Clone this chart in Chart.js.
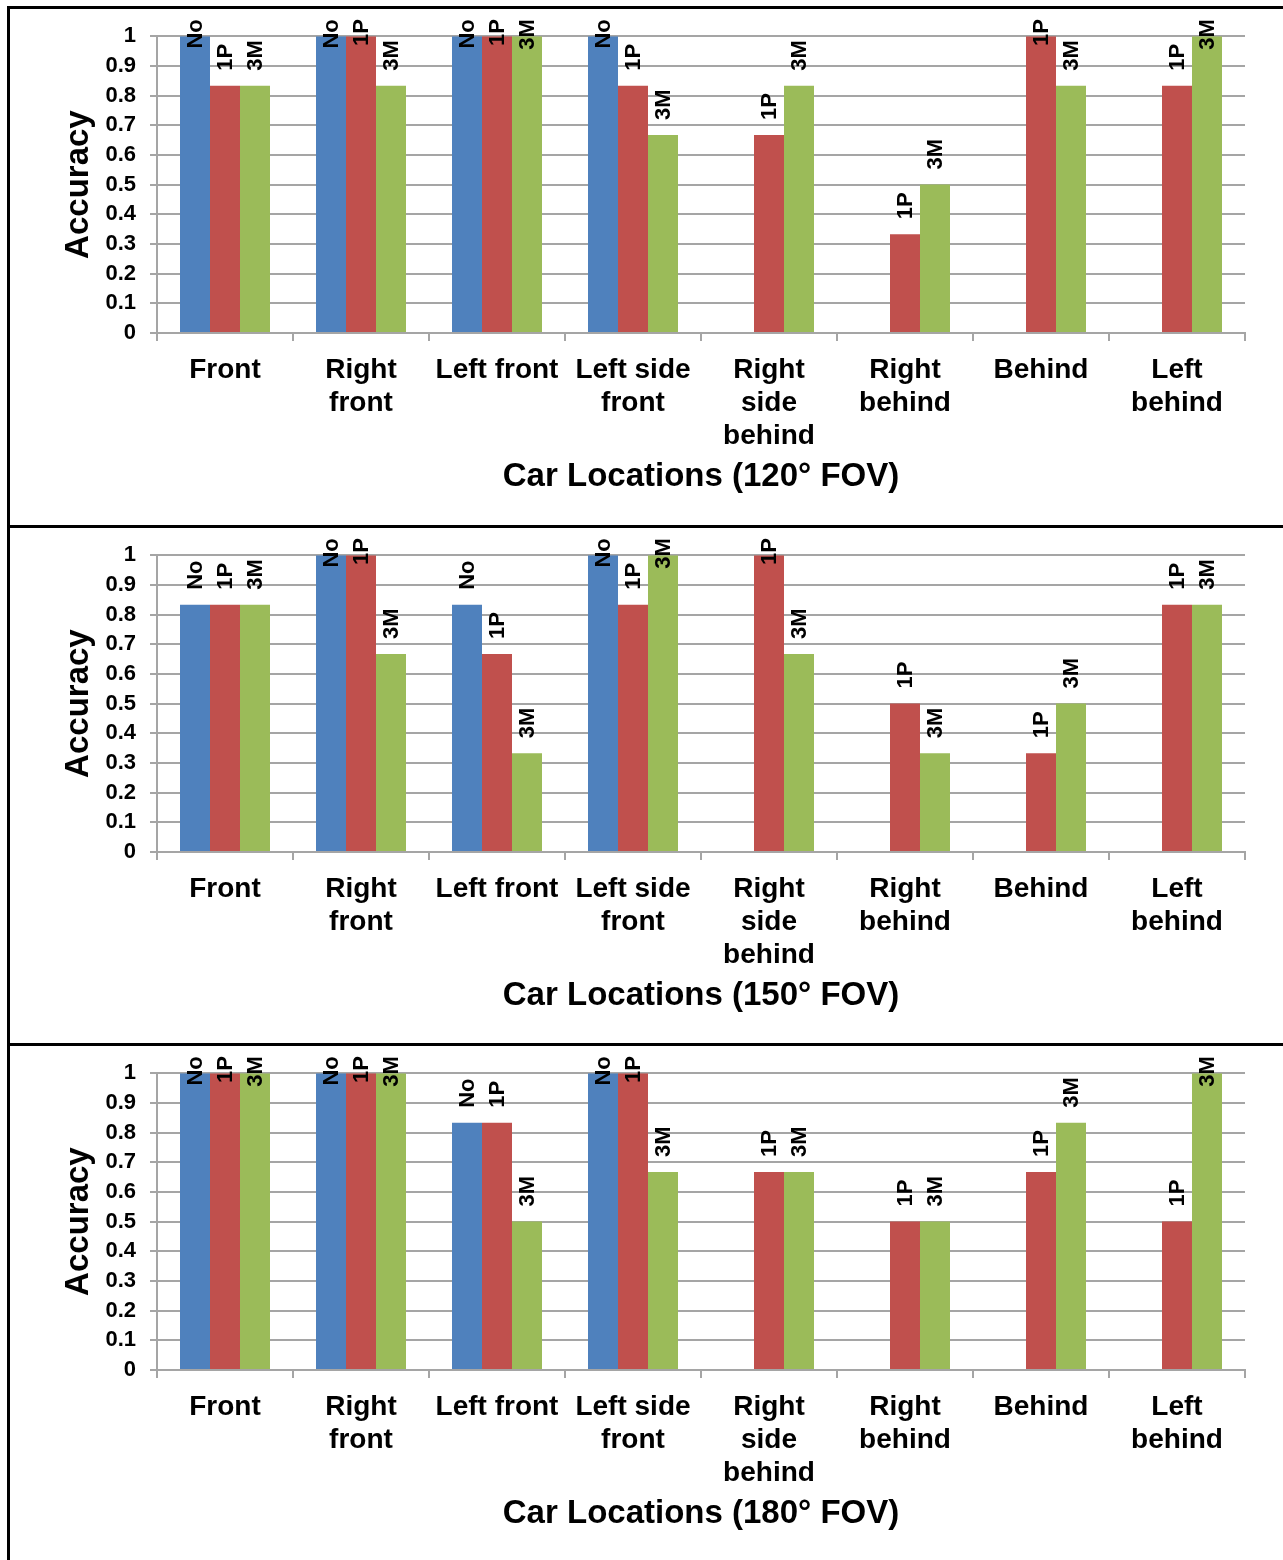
<!DOCTYPE html>
<html><head><meta charset="utf-8">
<script src="https://cdn.jsdelivr.net/npm/chart.js@4"></script>
<style>
html,body{margin:0;padding:0;background:#fff;overflow:hidden;width:1283px;height:1560px;}
.panel{position:absolute;left:7px;width:1290px;border-top:3px solid #000;border-left:3px solid #000;}
.panel canvas{display:block;}
</style></head><body>
<div class="panel" style="top:6px;height:516px"><canvas id="c0" width="1273" height="516"></canvas></div>
<div class="panel" style="top:525px;height:515px"><canvas id="c1" width="1273" height="515"></canvas></div>
<div class="panel" style="top:1043px;height:517px"><canvas id="c2" width="1273" height="514"></canvas></div>
<script>
const categories = ['Front', ['Right','front'], 'Left front', ['Left side','front'], ['Right','side','behind'], ['Right','behind'], 'Behind', ['Left','behind']];
const seriesNames = ['No', '1P', '3M'];
const seriesColors = ['#4F81BD', '#C0504D', '#9BBB59'];
const yTicks = [0, 0.1, 0.2, 0.3, 0.4, 0.5, 0.6, 0.7, 0.8, 0.9, 1];
const panelTitles = ['Car Locations (120° FOV)', 'Car Locations (150° FOV)', 'Car Locations (180° FOV)'];

// 120° FOV
const no120 = [1, 1, 1, 1, null, null, null, null];
const p1_120 = [0.833, 1, 1, 0.833, 0.667, 0.333, 1, 0.833];
const m3_120 = [0.833, 0.833, 1, 0.667, 0.833, 0.5, 0.833, 1];
// 150° FOV
const no150 = [0.833, 1, 0.833, 1, null, null, null, null];
const p1_150 = [0.833, 1, 0.667, 0.833, 1, 0.5, 0.333, 0.833];
const m3_150 = [0.833, 0.667, 0.333, 1, 0.667, 0.333, 0.5, 0.833];
// 180° FOV
const no180 = [1, 1, 0.833, 1, null, null, null, null];
const p1_180 = [1, 1, 0.833, 1, 0.667, 0.5, 0.667, 0.5];
const m3_180 = [1, 1, 0.5, 0.667, 0.667, 0.5, 0.833, 1];

const panelData = [[no120, p1_120, m3_120], [no150, p1_150, m3_150], [no180, p1_180, m3_180]];
const FONT = '"Liberation Sans", Arial, Helvetica, sans-serif';
const GRID = '#a5a5a5';

const labelPlugin = {
  id: 'barLabels',
  afterDatasetsDraw(chart) {
    const ctx = chart.ctx;
    const top = chart.chartArea.top;
    ctx.save();
    ctx.font = 'bold 22px ' + FONT;
    ctx.fillStyle = '#000';
    ctx.textAlign = 'left';
    ctx.textBaseline = 'middle';
    chart.data.datasets.forEach((ds, di) => {
      const meta = chart.getDatasetMeta(di);
      meta.data.forEach((bar, i) => {
        const v = ds.data[i];
        if (v === null || v === undefined) return;
        const txt = ds.label;
        const w = ctx.measureText(txt).width;
        let yb = bar.y - 15;
        if (yb - w < top - 17) yb = top - 17 + w;
        ctx.save();
        ctx.translate(bar.x + 1, yb);
        ctx.rotate(-Math.PI / 2);
        ctx.fillText(txt, 0, 0);
        ctx.restore();
      });
    });
    ctx.restore();
  }
};

const padBottoms = [24, 23, 22];

panelData.forEach((series, pi) => {
  new Chart(document.getElementById('c' + pi), {
    type: 'bar',
    data: {
      labels: categories,
      datasets: series.map((d, si) => ({
        label: seriesNames[si],
        data: d,
        backgroundColor: seriesColors[si],
        borderWidth: 0,
        barPercentage: 1,
        categoryPercentage: 90 / 136
      }))
    },
    options: {
      responsive: false,
      animation: false,
      events: [],
      layout: { padding: { left: 45, right: 38, top: 27, bottom: padBottoms[pi] } },
      plugins: { legend: { display: false }, tooltip: { enabled: false } },
      scales: {
        x: {
          grid: { display: true, drawOnChartArea: false, drawTicks: true, tickLength: 8, color: GRID, lineWidth: 2, offset: true },
          border: { display: true, color: GRID, width: 2 },
          ticks: { color: '#000', font: { family: FONT, size: 28, weight: 'bold', lineHeight: 33 / 28 }, padding: 13, maxRotation: 0, minRotation: 0, autoSkip: false },
          title: { display: true, text: panelTitles[pi], color: '#000', font: { family: FONT, size: 33, weight: 'bold', lineHeight: 1.2 }, padding: { top: 4, bottom: 4 } },
          afterFit(scale) { scale.height = 168; }
        },
        y: {
          min: 0, max: 1,
          afterBuildTicks(scale) { scale.ticks = yTicks.map(v => ({ value: v })); },
          grid: { color: GRID, lineWidth: 2, tickLength: 7, drawTicks: true },
          border: { display: true, color: GRID, width: 2 },
          ticks: {
            color: '#000', padding: 14,
            font: { family: FONT, size: 22, weight: 'bold' },
            callback: (v) => String(Math.round(v * 10) / 10)
          },
          title: { display: true, text: 'Accuracy', color: '#000', font: { family: FONT, size: 33, weight: 'bold', lineHeight: 1.2 }, padding: { top: 4, bottom: 4 } },
          afterFit(scale) { scale.width = 102; }
        }
      }
    },
    plugins: [labelPlugin]
  });
});
</script>
</body></html>
